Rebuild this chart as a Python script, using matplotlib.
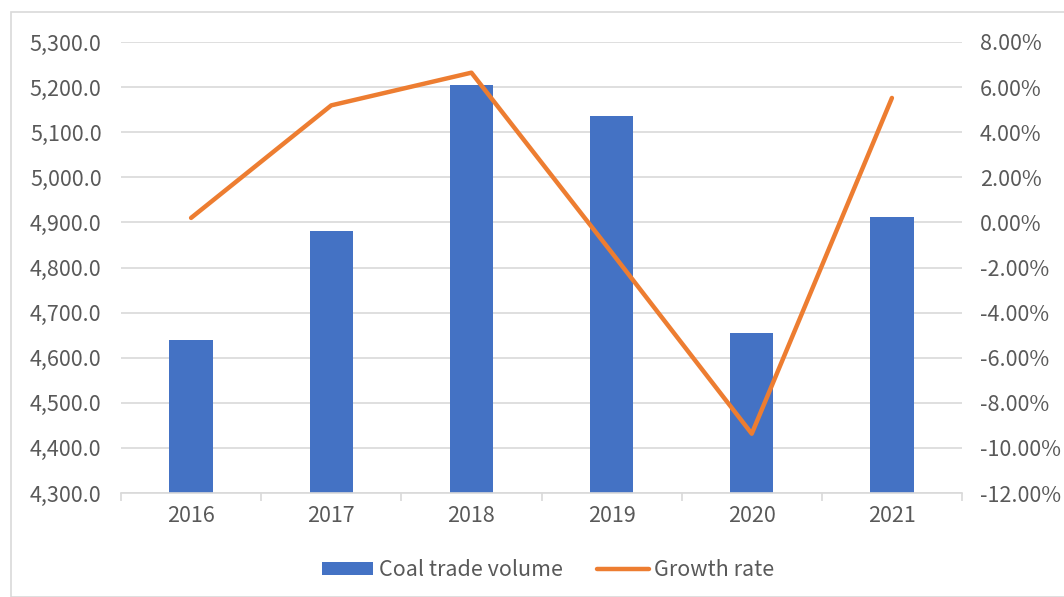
import matplotlib
matplotlib.use("Agg")
import matplotlib.pyplot as plt
from matplotlib.patches import Rectangle, Patch
from matplotlib.lines import Line2D
from matplotlib.ticker import FuncFormatter, MultipleLocator
import numpy as np

plt.rcParams['font.family'] = ['Noto Sans CJK SC', 'DejaVu Sans']
plt.rcParams['font.weight'] = 'light'

years = ["2016", "2017", "2018", "2019", "2020", "2021"]
volume = [4640.0, 4881.0, 5205.0, 5136.0, 4655.0, 4912.0]
growth = [0.20, 5.19, 6.64, -1.33, -9.37, 5.52]

BLUE = "#4472C4"
ORANGE = "#ED7D31"
TEXT = "#595959"
GRID = "#D9D9D9"
FS = 15.5

W, H = 1064, 597
fig = plt.figure(figsize=(W / 100, H / 100), dpi=100)

# outer chart-area border
fig.patches.append(Rectangle((11 / W, 0), (W + 5) / W, 1 - 12 / H, transform=fig.transFigure,
                             fill=False, edgecolor=GRID, linewidth=1.2))

left, right, top, bottom = 121, 962, 42, 493
ax = fig.add_axes([left / W, 1 - bottom / H, (right - left) / W, (bottom - top) / H])
ax2 = ax.twinx()

x = np.arange(len(years))
ax.bar(x, volume, width=0.31, color=BLUE, zorder=2)
ax.set_xlim(-0.5, len(years) - 0.5)
ax.set_ylim(4300, 5300)
ax.yaxis.set_major_locator(MultipleLocator(100))
ax.yaxis.set_major_formatter(FuncFormatter(lambda v, p: f"{v:,.1f}"))
ax.yaxis.grid(True, color=GRID, linewidth=1.2, zorder=0)
ax.set_axisbelow(True)

ax.set_xticks(x)
ax.set_xticklabels(years)
ax.set_xticks(np.arange(-0.5, len(years)), minor=True)
ax.tick_params(axis='x', which='major', length=0, pad=9, labelsize=FS, labelcolor=TEXT)
ax.tick_params(axis='x', which='minor', length=6, color=GRID, width=1.2)
ax.tick_params(axis='y', length=0, pad=14, labelsize=FS, labelcolor=TEXT)

for s in ("top", "right", "left"):
    ax.spines[s].set_visible(False)
    ax2.spines[s].set_visible(False)
ax.spines["bottom"].set_color(GRID)
ax.spines["bottom"].set_linewidth(1.2)
ax2.spines["bottom"].set_visible(False)

ax2.plot(x, growth, color=ORANGE, linewidth=3.2, solid_capstyle='round',
         solid_joinstyle='round', zorder=3)
ax2.set_ylim(-12, 8)
ax2.yaxis.set_major_locator(MultipleLocator(2))
ax2.yaxis.set_major_formatter(FuncFormatter(lambda v, p: f"{v:.2f}%"))
ax2.tick_params(axis='y', length=0, pad=13, labelsize=FS, labelcolor=TEXT)

handles = [Patch(facecolor=BLUE, edgecolor='none'),
           Line2D([0], [0], color=ORANGE, linewidth=3.2, solid_capstyle='round')]
fig.legend(handles, ["Coal trade volume", "Growth rate"], loc='center',
           bbox_to_anchor=(548 / W, 1 - 570 / H), ncol=2, frameon=False,
           fontsize=FS, labelcolor=TEXT, handlelength=2.4, handleheight=0.6,
           handletextpad=0.25, columnspacing=1.6)

fig.savefig("out.png", dpi=100)
